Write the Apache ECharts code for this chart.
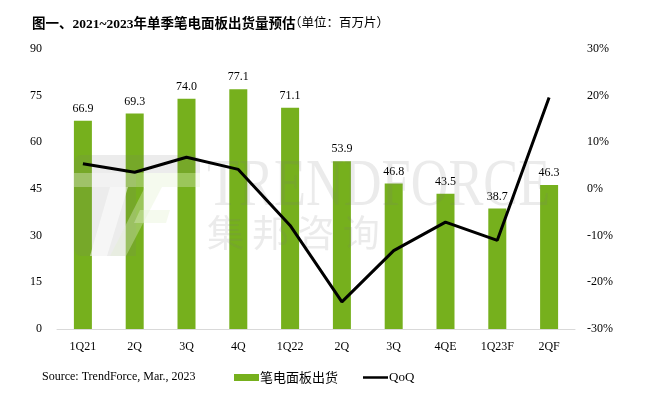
<!DOCTYPE html>
<html>
<head>
<meta charset="utf-8">
<script src="https://cdn.jsdelivr.net/npm/echarts@6/dist/echarts.min.js"></script>
<style>
    html, body { margin: 0; padding: 0; background: #fff; }
    #main { width: 646px; height: 397px; }
</style>
</head>
<body>
<div id="main"></div>
<script>
// 季度
var quarters = ['1Q21', '2Q', '3Q', '4Q', '1Q22', '2Q', '3Q', '4QE', '1Q23F', '2QF'];
// 笔电面板出货 (百万片)
var shipments = [66.9, 69.3, 74.0, 77.1, 71.1, 53.9, 46.8, 43.5, 38.7, 46.3];
// QoQ (%)
var qoq = [5.4, 3.6, 6.8, 4.2, -7.8, -24.2, -13.2, -7.1, -11.0, 19.6];

var serif = "'Liberation Serif', 'Times New Roman', serif";
var cjk = "'Noto Sans CJK SC', sans-serif";

var main = document.getElementById('main');
var chart = echarts.init(main);

var green = 'rgba(225,240,205,0.35)';
var gray = 'rgba(120,120,120,0.14)';

var option = {
    animation: false,
    backgroundColor: '#fff',
    title: {
        text: '图一、2021~2023年单季笔电面板出货量预估',
        left: 27,
        top: 13,
        textStyle: {
            fontFamily: serif + ", 'Noto Sans CJK SC'",
            fontWeight: 'bold',
            fontSize: 13.5,
            color: '#000'
        }
    },
    grid: {
        left: 57,
        right: 71,
        top: 49,
        bottom: 68
    },
    legend: {
        left: 229,
        top: 366,
        itemGap: 25,
        itemWidth: 25,
        itemHeight: 7,
        textStyle: { fontFamily: cjk, fontSize: 13, color: '#000', padding: [0, 0, 0, -4] },
        data: [
            { name: '笔电面板出货', icon: 'rect' },
            { name: 'QoQ', textStyle: { fontFamily: serif, fontSize: 13 },
              icon: 'path://M0,0 L10,0 L10,1 L0,1 Z' }
        ]
    },
    xAxis: {
        type: 'category',
        data: quarters,
        axisLine: { lineStyle: { color: '#d9d9d9', width: 1 } },
        axisTick: { show: false },
        axisLabel: { fontFamily: serif, fontSize: 12, color: '#000', margin: 12 }
    },
    yAxis: [
        {
            type: 'value',
            min: 0,
            max: 90,
            interval: 15,
            splitLine: { show: false },
            axisLine: { show: false },
            axisTick: { show: false },
            axisLabel: { fontFamily: serif, fontSize: 12, color: '#000', margin: 15 }
        },
        {
            type: 'value',
            min: -30,
            max: 30,
            interval: 10,
            splitLine: { show: false },
            axisLine: { show: false },
            axisTick: { show: false },
            axisLabel: { fontFamily: serif, fontSize: 12, color: '#000', margin: 12, formatter: '{value}%' }
        }
    ],
    series: [
        {
            name: '笔电面板出货',
            type: 'bar',
            data: shipments,
            barWidth: 18,
            itemStyle: { color: '#76B01D' },
            label: {
                show: true,
                position: 'top',
                distance: 6,
                fontFamily: serif,
                fontSize: 12,
                color: '#000',
                formatter: function (p) { return p.value.toFixed(1); }
            },
            z: 2
        },
        {
            name: 'QoQ',
            type: 'line',
            yAxisIndex: 1,
            data: qoq,
            symbol: 'none',
            lineStyle: { color: '#000', width: 3 },
            itemStyle: { color: '#000' },
            z: 10
        }
    ],
    graphic: [
        // 单位
        {
            type: 'text', left: 289, top: 16, z: 20,
            style: { text: '（单位：百万片）', fontFamily: cjk, fontSize: 12.5, fill: '#000' }
        },
        // 资料来源
        {
            type: 'text', left: 42, top: 371, z: 20,
            style: { text: 'Source: TrendForce, Mar., 2023', fontFamily: serif, fontSize: 12, fill: '#000' }
        },
        // 水印 logo
        {
            type: 'rect', z: 5, silent: true,
            shape: { x: 74, y: 155, width: 62, height: 101, r: [8, 0, 0, 8] },
            style: { fill: gray }
        },
        {
            type: 'rect', z: 5, silent: true,
            shape: { x: 136, y: 155, width: 64, height: 18, r: [0, 8, 0, 0] },
            style: { fill: gray }
        },
        {
            type: 'polygon', z: 6, silent: true,
            shape: { points: [[74, 173], [136, 173], [136, 187], [74, 187]] },
            style: { fill: 'rgba(255,255,255,0.3)' }
        },
        {
            type: 'polygon', z: 6, silent: true,
            shape: { points: [[110, 187], [128, 187], [107, 256], [90, 256]] },
            style: { fill: 'rgba(255,255,255,0.55)' }
        },
        {
            type: 'polygon', z: 6, silent: true,
            shape: { points: [[145, 187], [162, 187], [126, 256], [110, 256]] },
            style: { fill: green }
        },
        {
            type: 'polygon', z: 6, silent: true,
            shape: { points: [[140, 210], [170, 210], [166, 223], [134, 223]] },
            style: { fill: green }
        },
        {
            type: 'polygon', z: 6, silent: true,
            shape: { points: [[136, 173], [200, 173], [200, 187], [136, 187]] },
            style: { fill: green }
        },
        {
            type: 'text', x: 207, y: 187, z: 5, silent: true, scaleX: 0.77,
            style: {
                text: 'TRENDFORCE', fontFamily: serif, fontSize: 68,
                verticalAlign: 'middle',
                fill: 'rgba(120,120,120,0.15)'
            }
        },
        {
            type: 'text', left: 207, top: 214, z: 5, silent: true,
            style: {
                text: '集 邦 咨 询', fontFamily: cjk, fontSize: 37,
                fill: 'rgba(120,120,120,0.15)'
            }
        }
    ]
};

chart.setOption(option);
</script>
</body>
</html>
